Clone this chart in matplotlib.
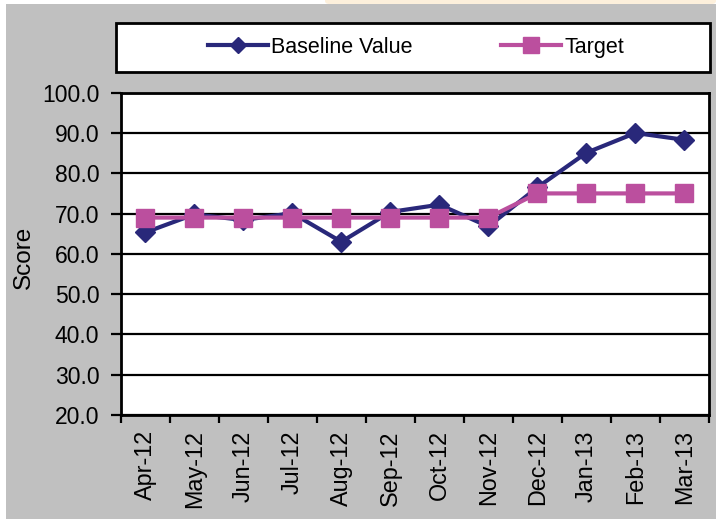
import matplotlib
matplotlib.use("Agg")
import matplotlib.pyplot as plt
from matplotlib.patches import Rectangle, FancyBboxPatch
import numpy as np

plt.rcParams['font.family'] = ['Liberation Sans', 'DejaVu Sans']

months = ["Apr-12", "May-12", "Jun-12", "Jul-12", "Aug-12", "Sep-12",
          "Oct-12", "Nov-12", "Dec-12", "Jan-13", "Feb-13", "Mar-13"]
baseline = [65.3, 69.8, 68.4, 70.1, 63.0, 70.4, 72.2, 66.8, 76.5, 85.1, 90.0, 88.3]
target = [69.0, 69.0, 69.0, 69.0, 69.0, 69.0, 69.0, 69.0, 75.0, 75.0, 75.0, 75.0]
y_ticks = [20, 30, 40, 50, 60, 70, 80, 90, 100]

W, H = 716, 519
fig = plt.figure(figsize=(W / 100, H / 100), dpi=100)
fig.patch.set_facecolor("white")

# chart background panel and the thin banner strip above it
fig.patches.append(Rectangle((6 / W, 0), 1 - 6 / W, 1 - 4 / H, transform=fig.transFigure,
                             facecolor="#c0c0c0", edgecolor="none", zorder=-10))
fig.patches.append(FancyBboxPatch((325 / W, 1 - 4 / H), 1 - 325 / W, 10 / H,
                                  boxstyle="round,pad=0,rounding_size=0.006",
                                  transform=fig.transFigure, facecolor="#fdf0dc",
                                  edgecolor="none", zorder=-10))

ax = fig.add_axes([120.7 / W, 1 - 415 / H, (709 - 120.7) / W, (415 - 92.7) / H])
ax.set_facecolor("white")

x = np.arange(len(months))
navy = "#29287a"
magenta = "#bb4f9e"
l1, = ax.plot(x, baseline, color=navy, lw=3.0, marker="D", ms=10,
              markeredgecolor=navy, label="Baseline Value", zorder=3)
l2, = ax.plot(x, target, color=magenta, lw=3.0, marker="s", ms=13,
              markeredgecolor=magenta, label="Target", zorder=4)

ax.set_xlim(-0.5, len(months) - 0.5)
ax.set_ylim(20, 100)
ax.set_yticks(y_ticks)
ax.set_yticklabels([f"{v:.1f}" for v in y_ticks])
ax.yaxis.grid(True, color="black", lw=1.6)
ax.set_axisbelow(True)

# category labels centred in their slots, tick marks on the slot boundaries
ax.set_xticks(np.arange(-0.5, len(months), 1.0))
ax.set_xticklabels([])
ax.set_xticks(x, minor=True)
ax.set_xticklabels(months, minor=True, rotation=90, fontsize=16.8)
ax.tick_params(axis="x", which="major", length=6, width=1.6, color="black")
ax.tick_params(axis="x", which="minor", length=0, pad=11)
ax.tick_params(axis="y", length=7, width=1.6, pad=8.3, labelsize=16.5)

for s in ax.spines.values():
    s.set_linewidth(2.0)
    s.set_color("black")

ax.set_ylabel("Score", fontsize=17.5)
ax.yaxis.set_label_coords(-0.145, 0.489)

# legend box
fig.patches.append(Rectangle((116 / W, 1 - 72 / H), (710 - 116) / W, (72 - 23) / H,
                             transform=fig.transFigure, facecolor="white",
                             edgecolor="black", lw=2.0, zorder=1))
leg = fig.legend(handles=[l1, l2], loc="center", ncol=2, frameon=False,
                 bbox_to_anchor=(416 / W, 1 - 47.5 / H), fontsize=15.5,
                 handlelength=2.8, handletextpad=0.15, columnspacing=4.1,
                 markerscale=0.85)

fig.savefig("out.png", dpi=100, facecolor=fig.get_facecolor())
